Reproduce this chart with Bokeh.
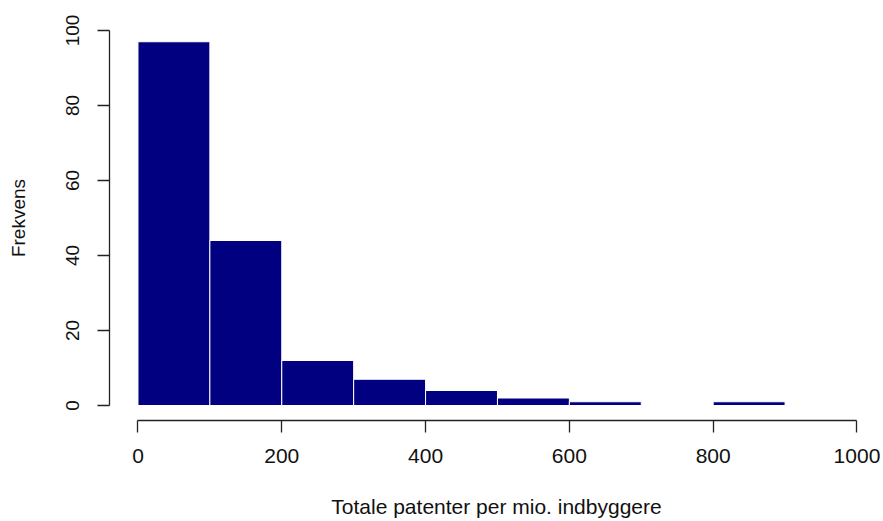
from bokeh.plotting import figure
from bokeh.models import FixedTicker, Range1d
from bokeh.embed import file_html
from bokeh.resources import INLINE

# Histogram data (bin edges and counts)
bin_edges = [0, 100, 200, 300, 400, 500, 600, 700, 800, 900]
counts = [97, 44, 12, 7, 4, 2, 1, 0, 1]
x_ticks = [0, 200, 400, 600, 800, 1000]
y_ticks = [0, 20, 40, 60, 80, 100]
x_title = "Totale patenter per mio. indbyggere"
y_title = "Frekvens"

p = figure(width=883, height=521, output_backend="svg", toolbar_location=None,
           x_range=Range1d(-39.6, 1036.9), y_range=Range1d(-4, 104),
           min_border_left=109, min_border_right=0, min_border_top=15, min_border_bottom=101)

p.quad(left=bin_edges[:-1], right=bin_edges[1:], top=counts, bottom=0,
       fill_color="#000080", line_color="white", line_width=1)

p.grid.visible = False
p.outline_line_color = None
p.background_fill_color = "white"
p.border_fill_color = "white"

for ax, ticks, bounds in ((p.xaxis[0], x_ticks, (0, 1000)), (p.yaxis[0], y_ticks, (0, 100))):
    ax.ticker = FixedTicker(ticks=ticks)
    ax.bounds = bounds
    ax.minor_tick_line_color = None
    ax.major_tick_in = 0
    ax.major_tick_out = 12
    ax.axis_line_color = "#222222"
    ax.major_tick_line_color = "#222222"
    ax.axis_line_width = 1.3
    ax.major_tick_line_width = 1.3
    ax.major_label_text_font = "Liberation Sans"
    ax.major_label_text_color = "#111111"
    ax.axis_label_text_font = "Liberation Sans"
    ax.axis_label_text_font_style = "normal"
    ax.axis_label_text_color = "#111111"

p.xaxis.major_label_text_font_size = "21px"
p.xaxis.axis_label_text_font_size = "21px"
p.yaxis.major_label_text_font_size = "19px"
p.yaxis.axis_label_text_font_size = "19px"

p.xaxis.axis_label = x_title
p.yaxis.axis_label = y_title
p.xaxis.major_label_standoff = 16
p.xaxis.axis_label_standoff = 29
p.yaxis.major_label_orientation = "vertical"
p.yaxis.major_label_standoff = 19
p.yaxis.axis_label_standoff = 34

open("out.html", "w").write(file_html(p, INLINE))
